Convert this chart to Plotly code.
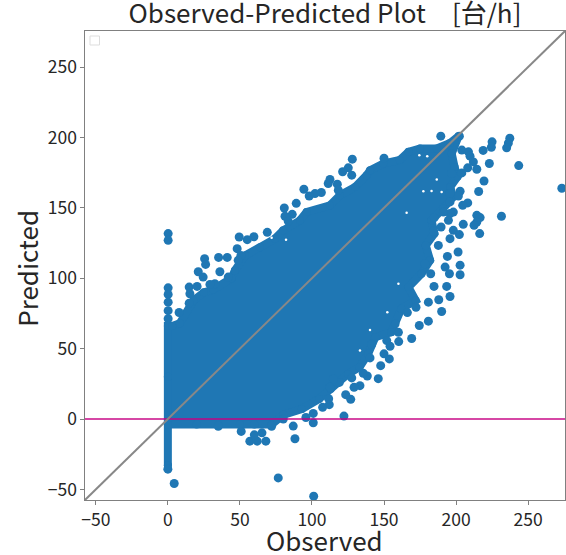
import plotly.graph_objects as go

# Outline of the solid part of the cloud (observed, predicted)
cloud_observed = [0, 0, 0, 0, 3, 8.3, 17.6, 25, 31.5, 44.2, 46.5, 53.5, 63.9, 74.3, 80, 91.7, 96.3, 112.5, 119.4, 129.9,
                  138, 140.3, 149.5, 161, 167, 175, 186.6, 195.8, 201.8, 197, 199, 201, 196, 198, 191, 183, 185,
                  179, 182, 176, 167, 172, 162, 158, 155, 144, 139, 133, 125, 113, 105, 93, 80.1,
                  72, 60, 50, 35, 20, 0, 0]
cloud_predicted = [-33, 0, 30, 66, 66, 68, 84, 90, 92, 100, 105.5, 116.2, 122.1, 128.1, 134, 141.1, 147, 151.8, 158.9, 164.8,
                   173.2, 176.7, 181.5, 184, 189.8, 192.2, 192.2, 196, 201, 188.6, 179, 172, 164.8, 157.7, 149.5, 141.1, 131.7,
                   123.3, 112.7, 103.2, 93.7, 84.2, 78.3, 67.6, 61.6, 58.1, 46.3, 36.7, 32, 21.4, 14.2, 7.1, 3,
                   -3.8, -3.8, -3.8, -3.8, -3.8, -3.8, -33]

# Individually visible points
single_observed = [0.2, 0.2, 0.2, 0.2, 0.2, 0.2, 0.2, 0, 4.4, 76.6, 56.9, 62, 68, 60, 65.3, 50.9, 35, 72, 101.2,
                   189.4, 202.3, 204, 208.6, 209.7, 212, 214.4, 208.1, 204, 197, 202.8, 201.6, 195.8, 208.1, 204.6, 195.8, 198.1, 195.8,
                   191.2, 194.7, 184.9, 189.6, 184.3, 205, 214.4, 216.7, 214.4, 212.5, 216.4, 198.1, 202.3, 195.8, 187.7, 194, 201.4,
                   202.8, 192.4, 195.4, 202.8, 182.4, 178.5,
                   184.7, 193.5, 195.8, 188, 180.8, 190, 172.2, 166.2, 180.8, 174.5, 169.2, 160.2, 160, 151.9, 154.2, 141.4, 153.7, 150,
                   147.7, 140.3, 146, 138.4, 135.6, 133.3, 127.6, 119, 114.8, 112.5, 129.2, 126.9, 123.4, 112, 111.6, 107.4, 122.2, 100.9,
                   95.8, 100.9, 87, 88.2, 80.1,
                   128, 125.2, 121.3, 127.6, 112.5, 111.3, 117.6, 118.3, 94.4, 106.5, 102.1, 98.1, 89.1, 80.8, 86.3, 81.3, 83.5, 69,
                   59.7, 55.1, 49.5, 48.1, 35.2, 41.2, 25.5, 26.2, 21.1, 24.5, 36.1, 41.9, 32.6, 29.2, 14.8, 20.3, 15.3, 14.8, 7.8,
                   50.7, 48.8,
                   225, 224.5, 237.3, 236.3, 235.1, 218.8, 223.1, 243.5, 273.4, 219.4, 215.7, 231.5, 150]
single_predicted = [131.7, 126.9, 93.2, 88.5, 83, 77, 71.2, -35.6, -45.8, -41.8, -15.7, -15.7, -15.7, -11.2, -9.8, -8.8, -5.2, -5.2, -54.8,
                    200.9, 200.9, 191, 189.8, 186.7, 182.6, 177.4, 178.4, 174.8, 174.4, 161.8, 158.4, 160.1, 153.5, 151.8, 154.2, 147, 146,
                    147, 141.1, 143.1, 136.4, 133.3, 138.3, 144.7, 143.1, 139.9, 137.6, 131.7, 134, 131, 128.1, 123.3, 115.5, 118.6,
                    109.3, 107.9, 103.2, 102.5, 103.2, 110.3,
                    94.2, 94.2, 87, 84.7, 83, 76.4, 79.4, 75.6, 69.5, 66.4, 57.2, 55, 61.6, 55.7, 51.7, 52.9, 42.7, 46.3,
                    37.9, 43.4, 28.7, 30.6, 32.5, 23.7, 29.2, 26, 28.5, 22.5, 22.5, 14, 17.3, 10.2, 14.4, 8.3, 2.1, 4,
                    1.1, -2.6, -5, -14, 0,
                    184.6, 178.4, 175.6, 173.2, 170.1, 167.3, 166.8, 162.5, 163.2, 160.9, 160.1, 158.4, 153.2, 149.9, 145.4, 144, 140.6, 132.6,
                    129.5, 127.4, 129.3, 121, 114.8, 114.8, 113.9, 109.8, 104.6, 100.8, 104.6, 100.8, 96.1, 95.6, 93.7, 94.2, 89, 82.3, 75.7,
                    116.2, 112.7,
                    196.9, 193, 199.4, 196, 192.6, 190.8, 181.5, 180, 163.9, 169.1, 161.6, 144, 185.3]

# Small empty spots left between the points
gap_observed = [174.5, 180, 165.7, 190, 177.3, 183, 186.6, 72, 82, 160, 140.3, 133.3, 152.3]
gap_predicted = [187.4, 186.7, 146.6, 161.3, 161.8, 162, 170.1, 128.8, 127.4, 96.1, 63.3, 48.6, 75.9]

diagonal_values = [-60, 280]
zero_x = [-60, 280]
zero_y = [0, 0]
axis_ticks = [-50, 0, 50, 100, 150, 200, 250]
axis_labels = ["−50", "0", "50", "100", "150", "200", "250"]

BLUE = "#1f77b4"
FONT = "Noto Sans CJK JP"
INK = "#262626"

fig = go.Figure()
fig.add_trace(go.Scatter(x=cloud_observed, y=cloud_predicted, mode="lines+markers", fill="toself",
                         fillcolor=BLUE, line=dict(color=BLUE, width=8), marker=dict(color=BLUE, size=8),
                         hoverinfo="skip"))
fig.add_trace(go.Scatter(x=single_observed, y=single_predicted, mode="markers",
                         marker=dict(color=BLUE, size=9), hoverinfo="skip"))
fig.add_trace(go.Scatter(x=gap_observed, y=gap_predicted, mode="markers",
                         marker=dict(color="white", size=2.5), hoverinfo="skip"))
fig.add_trace(go.Scatter(x=zero_x, y=zero_y, mode="lines",
                         line=dict(color="rgba(198,0,130,0.72)", width=2), hoverinfo="skip"))
fig.add_trace(go.Scatter(x=diagonal_values, y=diagonal_values, mode="lines",
                         line=dict(color="#888888", width=2), hoverinfo="skip"))

axis = dict(range=[-57.5, 275.6], tickmode="array", tickvals=axis_ticks, ticktext=axis_labels, automargin=False,
            showgrid=False, zeroline=False, showline=True, mirror=True, linecolor="#808080", linewidth=1.2,
            ticks="outside", ticklen=3.5, tickwidth=1, tickcolor="#808080",
            tickfont=dict(family=FONT, size=17.5, color=INK))

PLOT_W = 479.7
PLOT_H = 468.7
fig.update_layout(
    width=566, height=555, autosize=False, showlegend=False,
    paper_bgcolor="white", plot_bgcolor="white",
    margin=dict(l=85.3, r=1, t=31, b=55.3, autoexpand=False),
    title=dict(text="Observed-Predicted Plot　[台/h]", x=325 / 566, xanchor="center", y=1 - 14 / 555, yanchor="middle",
               font=dict(family=FONT, size=26, color=INK)),
    xaxis=axis,
    yaxis=axis,
    annotations=[
        dict(text="Observed", xref="paper", yref="paper", x=(325 - 85.3) / PLOT_W, y=(499.7 - 539) / PLOT_H,
             showarrow=False, xanchor="center", yanchor="middle", font=dict(family=FONT, size=26, color=INK)),
        dict(text="Predicted", xref="paper", yref="paper", x=(26 - 85.3) / PLOT_W, y=(499.7 - 268) / PLOT_H,
             showarrow=False, xanchor="center", yanchor="middle", textangle=-90, font=dict(family=FONT, size=26, color=INK)),
    ],
    shapes=[dict(type="rect", xref="paper", yref="paper", x0=5 / PLOT_W, x1=14.5 / PLOT_W,
                 y0=1 - 14 / PLOT_H, y1=1 - 5 / PLOT_H, line=dict(color="#dddddd", width=1), fillcolor="white")],
)
fig.write_html("out.html", post_script="document.body.style.margin='0';", config={"displayModeBar": False})
